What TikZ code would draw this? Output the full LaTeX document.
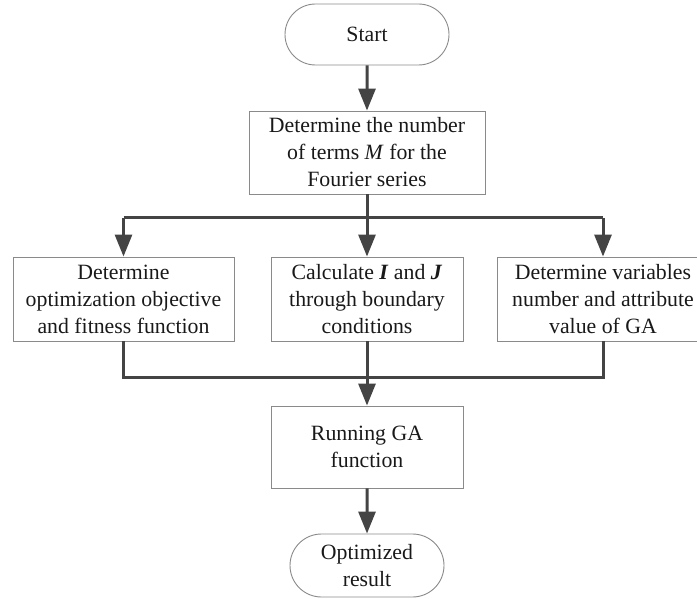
\documentclass[tikz,border=0pt]{standalone}
\usepackage{fontspec}
\setmainfont{Liberation Serif}
\usetikzlibrary{shapes.misc,arrows.meta}
\definecolor{linec}{HTML}{444444}
\definecolor{boxc}{HTML}{8A8A8A}
\begin{document}
\begin{tikzpicture}[x=1pt,y=-1pt,
  box/.style={draw=boxc,line width=0.9pt,align=center,inner sep=0pt,
    font=\fontsize{21.8}{27}\selectfont,text=black!90},
  term/.style={box,rounded rectangle},
  flow/.style={draw=linec,line width=3pt},
  arr/.style={flow,-{Triangle[length=22pt,width=17pt]}}]
\useasboundingbox (0,0) rectangle (697,599);
\node[term,minimum width=164pt,minimum height=61pt] (start) at (367,34.5) {Start};
\node[box,minimum width=236pt,minimum height=83pt] (terms) at (367,152.5)
  {Determine the number\\of terms \textit{M} for the\\Fourier series};
\node[box,minimum width=221pt,minimum height=84pt] (opt) at (123.5,299)
  {Determine\\optimization objective\\and fitness function};
\node[box,minimum width=192pt,minimum height=84pt] (calc) at (367,299)
  {Calculate \textbf{\textit{I}} and \textbf{\textit{J}}\\through boundary\\conditions};
\node[box,minimum width=212pt,minimum height=84pt] (var) at (603,299)
  {Determine variables\\number and attribute\\value of GA};
\node[box,minimum width=192pt,minimum height=82pt] (run) at (367,447)
  {Running GA\\function};
\node[term,minimum width=154pt,minimum height=63pt] (res) at (367,565.5)
  {Optimized\\result};
\coordinate (sp) at (367,218);
\coordinate (mg) at (367,377);
\draw[arr] (start) -- (terms);
\draw[flow] (terms.south) -- (sp);
\draw[flow] (sp -| opt.north) -- (sp -| var.north);
\draw[arr] (sp -| opt.north) -- (opt.north);
\draw[arr] (sp -| calc.north) -- (calc.north);
\draw[arr] (sp -| var.north) -- (var.north);
\draw[flow] (opt.south) -- (mg -| opt.south) -- (mg -| var.south) -- (var.south);
\draw[flow] (calc.south) -- (mg -| calc.south);
\draw[arr] (mg) -- (run.north);
\draw[arr] (run) -- (res);
\end{tikzpicture}
\end{document}
